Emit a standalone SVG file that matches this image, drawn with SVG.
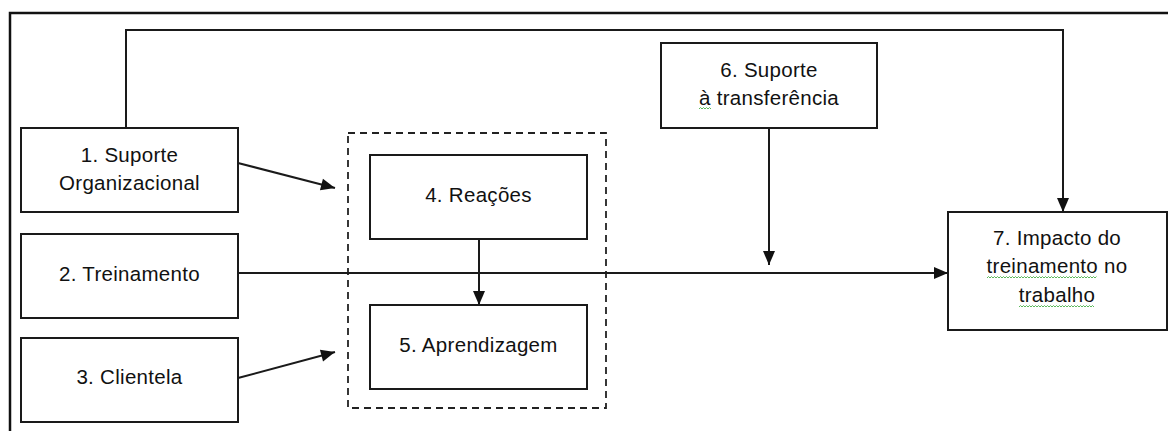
<svg xmlns="http://www.w3.org/2000/svg" width="1168" height="431" viewBox="0 0 1168 431">
<defs>
<marker id="arr" markerUnits="userSpaceOnUse" markerWidth="16" markerHeight="16" viewBox="0 0 16 16" refX="15" refY="8" orient="auto">
<path d="M1,2 L15,8 L1,14 Z" fill="#111"/>
</marker>
<style>
.box{fill:#fff;stroke:#1a1a1a;stroke-width:2}
.lbl{font-family:"Liberation Sans",Arial,sans-serif;font-size:20.5px;letter-spacing:0.3px;fill:#111;text-anchor:middle}
.con{fill:none;stroke:#1a1a1a;stroke-width:2}
.sq{fill:none;stroke:#5cb85c;stroke-width:1}
</style>
</defs>
<rect width="1168" height="431" fill="#fff"/>
<rect x="10" y="13" width="1180" height="440" fill="none" stroke="#111" stroke-width="2.5"/>
<g id="group-dashed">
<rect x="348" y="133" width="258" height="275" fill="none" stroke="#222" stroke-width="1.8" stroke-dasharray="7,5"/>
</g>
<g id="connectors">
<polyline class="con" points="126,128 126,30 1063,30 1063,212" marker-end="url(#arr)"/>
<line class="con" x1="238" y1="163" x2="335" y2="188" marker-end="url(#arr)"/>
<line class="con" x1="238" y1="378" x2="335" y2="352" marker-end="url(#arr)"/>
<line class="con" x1="238" y1="273" x2="948" y2="273" marker-end="url(#arr)"/>
<line class="con" x1="479" y1="239" x2="479" y2="305" marker-end="url(#arr)"/>
<line class="con" x1="769" y1="128" x2="769" y2="265" marker-end="url(#arr)"/>
</g>
<g id="n1">
<rect class="box" x="21" y="128" width="217" height="84"/>
<text class="lbl" x="129.5" y="162">1. Suporte</text>
<text class="lbl" x="129.5" y="190">Organizacional</text>
</g>
<g id="n2">
<rect class="box" x="21" y="234" width="217" height="84"/>
<text class="lbl" x="129.5" y="281">2. Treinamento</text>
</g>
<g id="n3">
<rect class="box" x="21" y="338" width="217" height="84"/>
<text class="lbl" x="129.5" y="384">3. Clientela</text>
</g>
<g id="n4">
<rect class="box" x="370" y="155" width="217" height="84"/>
<text class="lbl" x="478.5" y="202">4. Reações</text>
</g>
<g id="n5">
<rect class="box" x="370" y="305" width="217" height="84"/>
<text class="lbl" x="478.5" y="352">5. Aprendizagem</text>
</g>
<g id="n6">
<rect class="box" x="661" y="43" width="216" height="85"/>
<text class="lbl" x="769" y="77">6. Suporte</text>
<text class="lbl" x="769" y="105">à transferência</text>
<path class="sq" d="M699,109 l1.5,-1.5 l1.5,1.5 l1.5,-1.5 l1.5,1.5 l1.5,-1.5 l1.5,1.5 l1.5,-1.5 l1.5,1.5"/>
</g>
<g id="n7">
<rect class="box" x="948" y="212" width="219" height="118"/>
<text class="lbl" x="1057" y="245">7. Impacto do</text>
<text class="lbl" x="1057" y="273">treinamento no</text>
<text class="lbl" x="1057" y="302">trabalho</text>
<path class="sq" d="M987,278 l1.5,-1.5 l1.5,1.5 l1.5,-1.5 l1.5,1.5 l1.5,-1.5 l1.5,1.5 l1.5,-1.5 l1.5,1.5 l1.5,-1.5 l1.5,1.5 l1.5,-1.5 l1.5,1.5 l1.5,-1.5 l1.5,1.5 l1.5,-1.5 l1.5,1.5 l1.5,-1.5 l1.5,1.5 l1.5,-1.5 l1.5,1.5 l1.5,-1.5 l1.5,1.5 l1.5,-1.5 l1.5,1.5 l1.5,-1.5 l1.5,1.5 l1.5,-1.5 l1.5,1.5 l1.5,-1.5 l1.5,1.5 l1.5,-1.5 l1.5,1.5 l1.5,-1.5 l1.5,1.5 l1.5,-1.5 l1.5,1.5 l1.5,-1.5 l1.5,1.5 l1.5,-1.5 l1.5,1.5 l1.5,-1.5 l1.5,1.5 l1.5,-1.5 l1.5,1.5 l1.5,-1.5 l1.5,1.5 l1.5,-1.5 l1.5,1.5 l1.5,-1.5 l1.5,1.5 l1.5,-1.5 l1.5,1.5 l1.5,-1.5 l1.5,1.5 l1.5,-1.5 l1.5,1.5 l1.5,-1.5 l1.5,1.5 l1.5,-1.5 l1.5,1.5 l1.5,-1.5 l1.5,1.5 l1.5,-1.5 l1.5,1.5 l1.5,-1.5 l1.5,1.5 l1.5,-1.5 l1.5,1.5 l1.5,-1.5 l1.5,1.5 l1.5,-1.5 l1.5,1.5 l1.5,-1.5"/>
<path class="sq" d="M1019,307 l1.5,-1.5 l1.5,1.5 l1.5,-1.5 l1.5,1.5 l1.5,-1.5 l1.5,1.5 l1.5,-1.5 l1.5,1.5 l1.5,-1.5 l1.5,1.5 l1.5,-1.5 l1.5,1.5 l1.5,-1.5 l1.5,1.5 l1.5,-1.5 l1.5,1.5 l1.5,-1.5 l1.5,1.5 l1.5,-1.5 l1.5,1.5 l1.5,-1.5 l1.5,1.5 l1.5,-1.5 l1.5,1.5 l1.5,-1.5 l1.5,1.5 l1.5,-1.5 l1.5,1.5 l1.5,-1.5 l1.5,1.5 l1.5,-1.5 l1.5,1.5 l1.5,-1.5 l1.5,1.5 l1.5,-1.5 l1.5,1.5 l1.5,-1.5 l1.5,1.5 l1.5,-1.5 l1.5,1.5 l1.5,-1.5 l1.5,1.5 l1.5,-1.5 l1.5,1.5 l1.5,-1.5 l1.5,1.5 l1.5,-1.5 l1.5,1.5 l1.5,-1.5 l1.5,1.5"/>
</g>
</svg>
